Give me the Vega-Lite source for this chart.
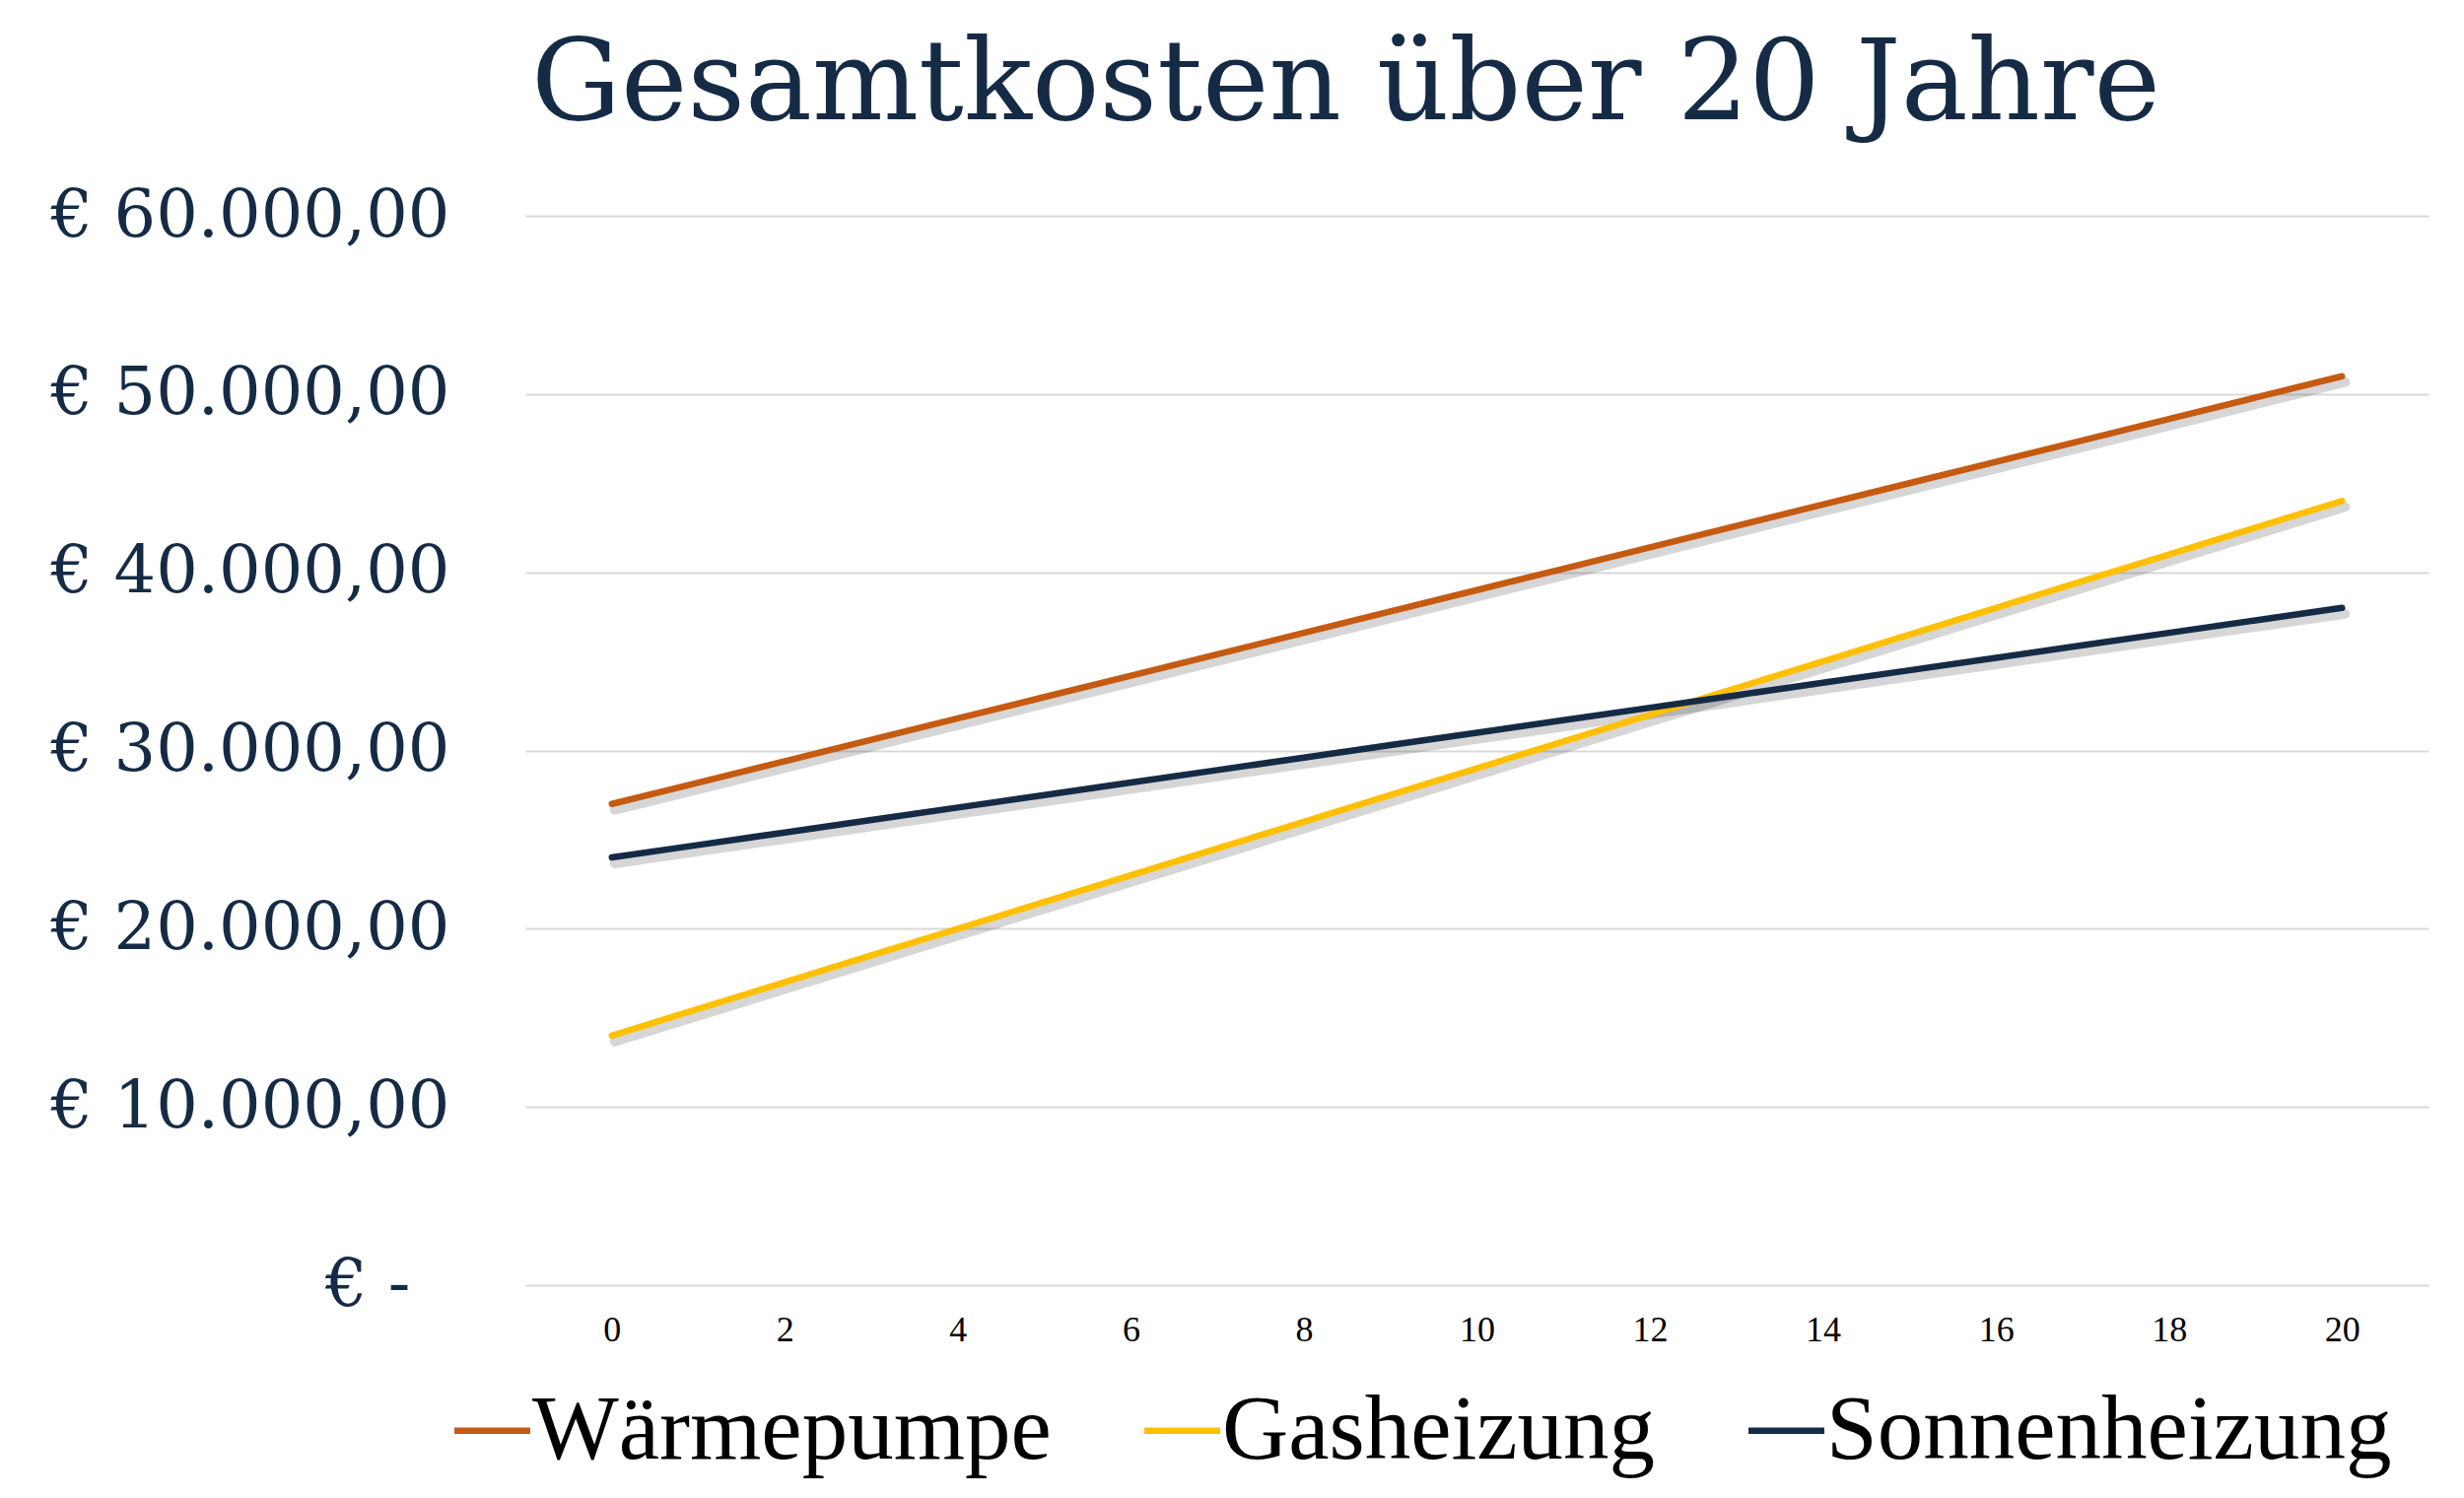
{
  "$schema": "https://vega.github.io/schema/vega-lite/v6.json",
  "autosize": {"type": "none"},
  "padding": {"left": 533, "top": 219, "right": 36, "bottom": 216},
  "width": 1931,
  "height": 1085,
  "background": "white",
  "config": {"view": {"stroke": null}},
  "title": {
    "text": "Gesamtkosten über 20 Jahre",
    "font": "DejaVu Serif",
    "fontSize": 114,
    "fontWeight": "normal",
    "color": "#152B45",
    "anchor": "middle",
    "frame": "group",
    "baseline": "alphabetic",
    "dx": -133,
    "offset": -50
  },
  "data": {
    "values": [
      {"Jahr": 0, "Heizung": "Wärmepumpe", "Kosten": 27000},
      {"Jahr": 1, "Heizung": "Wärmepumpe", "Kosten": 28200},
      {"Jahr": 2, "Heizung": "Wärmepumpe", "Kosten": 29400},
      {"Jahr": 3, "Heizung": "Wärmepumpe", "Kosten": 30600},
      {"Jahr": 4, "Heizung": "Wärmepumpe", "Kosten": 31800},
      {"Jahr": 5, "Heizung": "Wärmepumpe", "Kosten": 33000},
      {"Jahr": 6, "Heizung": "Wärmepumpe", "Kosten": 34200},
      {"Jahr": 7, "Heizung": "Wärmepumpe", "Kosten": 35400},
      {"Jahr": 8, "Heizung": "Wärmepumpe", "Kosten": 36600},
      {"Jahr": 9, "Heizung": "Wärmepumpe", "Kosten": 37800},
      {"Jahr": 10, "Heizung": "Wärmepumpe", "Kosten": 39000},
      {"Jahr": 11, "Heizung": "Wärmepumpe", "Kosten": 40200},
      {"Jahr": 12, "Heizung": "Wärmepumpe", "Kosten": 41400},
      {"Jahr": 13, "Heizung": "Wärmepumpe", "Kosten": 42600},
      {"Jahr": 14, "Heizung": "Wärmepumpe", "Kosten": 43800},
      {"Jahr": 15, "Heizung": "Wärmepumpe", "Kosten": 45000},
      {"Jahr": 16, "Heizung": "Wärmepumpe", "Kosten": 46200},
      {"Jahr": 17, "Heizung": "Wärmepumpe", "Kosten": 47400},
      {"Jahr": 18, "Heizung": "Wärmepumpe", "Kosten": 48600},
      {"Jahr": 19, "Heizung": "Wärmepumpe", "Kosten": 49800},
      {"Jahr": 20, "Heizung": "Wärmepumpe", "Kosten": 51000},
      {"Jahr": 0, "Heizung": "Gasheizung", "Kosten": 14000},
      {"Jahr": 1, "Heizung": "Gasheizung", "Kosten": 15500},
      {"Jahr": 2, "Heizung": "Gasheizung", "Kosten": 17000},
      {"Jahr": 3, "Heizung": "Gasheizung", "Kosten": 18500},
      {"Jahr": 4, "Heizung": "Gasheizung", "Kosten": 20000},
      {"Jahr": 5, "Heizung": "Gasheizung", "Kosten": 21500},
      {"Jahr": 6, "Heizung": "Gasheizung", "Kosten": 23000},
      {"Jahr": 7, "Heizung": "Gasheizung", "Kosten": 24500},
      {"Jahr": 8, "Heizung": "Gasheizung", "Kosten": 26000},
      {"Jahr": 9, "Heizung": "Gasheizung", "Kosten": 27500},
      {"Jahr": 10, "Heizung": "Gasheizung", "Kosten": 29000},
      {"Jahr": 11, "Heizung": "Gasheizung", "Kosten": 30500},
      {"Jahr": 12, "Heizung": "Gasheizung", "Kosten": 32000},
      {"Jahr": 13, "Heizung": "Gasheizung", "Kosten": 33500},
      {"Jahr": 14, "Heizung": "Gasheizung", "Kosten": 35000},
      {"Jahr": 15, "Heizung": "Gasheizung", "Kosten": 36500},
      {"Jahr": 16, "Heizung": "Gasheizung", "Kosten": 38000},
      {"Jahr": 17, "Heizung": "Gasheizung", "Kosten": 39500},
      {"Jahr": 18, "Heizung": "Gasheizung", "Kosten": 41000},
      {"Jahr": 19, "Heizung": "Gasheizung", "Kosten": 42500},
      {"Jahr": 20, "Heizung": "Gasheizung", "Kosten": 44000},
      {"Jahr": 0, "Heizung": "Sonnenheizung", "Kosten": 24000},
      {"Jahr": 1, "Heizung": "Sonnenheizung", "Kosten": 24700},
      {"Jahr": 2, "Heizung": "Sonnenheizung", "Kosten": 25400},
      {"Jahr": 3, "Heizung": "Sonnenheizung", "Kosten": 26100},
      {"Jahr": 4, "Heizung": "Sonnenheizung", "Kosten": 26800},
      {"Jahr": 5, "Heizung": "Sonnenheizung", "Kosten": 27500},
      {"Jahr": 6, "Heizung": "Sonnenheizung", "Kosten": 28200},
      {"Jahr": 7, "Heizung": "Sonnenheizung", "Kosten": 28900},
      {"Jahr": 8, "Heizung": "Sonnenheizung", "Kosten": 29600},
      {"Jahr": 9, "Heizung": "Sonnenheizung", "Kosten": 30300},
      {"Jahr": 10, "Heizung": "Sonnenheizung", "Kosten": 31000},
      {"Jahr": 11, "Heizung": "Sonnenheizung", "Kosten": 31700},
      {"Jahr": 12, "Heizung": "Sonnenheizung", "Kosten": 32400},
      {"Jahr": 13, "Heizung": "Sonnenheizung", "Kosten": 33100},
      {"Jahr": 14, "Heizung": "Sonnenheizung", "Kosten": 33800},
      {"Jahr": 15, "Heizung": "Sonnenheizung", "Kosten": 34500},
      {"Jahr": 16, "Heizung": "Sonnenheizung", "Kosten": 35200},
      {"Jahr": 17, "Heizung": "Sonnenheizung", "Kosten": 35900},
      {"Jahr": 18, "Heizung": "Sonnenheizung", "Kosten": 36600},
      {"Jahr": 19, "Heizung": "Sonnenheizung", "Kosten": 37300},
      {"Jahr": 20, "Heizung": "Sonnenheizung", "Kosten": 38000}
    ]
  },
  "encoding": {
    "x": {
      "field": "Jahr",
      "type": "quantitative",
      "scale": {"domain": [-1, 21], "nice": false, "zero": false},
      "axis": {
        "title": null,
        "values": [0, 2, 4, 6, 8, 10, 12, 14, 16, 18, 20],
        "grid": false,
        "domain": false,
        "ticks": false,
        "labelFont": "Liberation Serif",
        "labelFontSize": 36,
        "labelColor": "#000000",
        "labelPadding": 28
      }
    },
    "y": {
      "field": "Kosten",
      "type": "quantitative",
      "scale": {"domain": [0, 60000], "nice": false},
      "axis": {
        "title": null,
        "values": [0, 10000, 20000, 30000, 40000, 50000, 60000],
        "grid": true,
        "gridColor": "#D9D9D9",
        "gridWidth": 2,
        "domain": false,
        "ticks": false,
        "labelFont": "DejaVu Serif",
        "labelFontSize": 67,
        "labelColor": "#152B45",
        "labelPadding": {"condition": {"test": "datum.value == 0", "value": 117}, "value": 77},
        "labelLimit": 0,
        "labelExpr": "datum.value == 0 ? '€ -' : '€ ' + format(datum.value / 1000, '.0f') + '.000,00'"
      }
    }
  },
  "layer": [
    {
      "mark": {"type": "line", "color": "#000000", "opacity": 0.16, "strokeWidth": 10, "xOffset": 3, "yOffset": 6, "strokeCap": "round"},
      "encoding": {"detail": {"field": "Heizung"}}
    },
    {
      "mark": {"type": "line", "strokeWidth": 6.5, "strokeCap": "round"},
      "encoding": {
        "color": {
          "field": "Heizung",
          "type": "nominal",
          "scale": {
            "domain": ["Wärmepumpe", "Gasheizung", "Sonnenheizung"],
            "range": ["#C55A11", "#FFC000", "#152B45"]
          },
          "legend": {
            "title": null,
            "orient": "none",
            "direction": "horizontal",
            "legendX": -80,
            "legendY": 1186,
            "symbolType": "stroke",
            "symbolSize": 5929,
            "symbolStrokeWidth": 6.5,
            "labelFont": "Liberation Serif",
            "labelFontSize": 93,
            "labelColor": "#000000",
            "labelOffset": -6,
            "columnPadding": 81,
            "labelLimit": 0
          }
        }
      }
    }
  ]
}
